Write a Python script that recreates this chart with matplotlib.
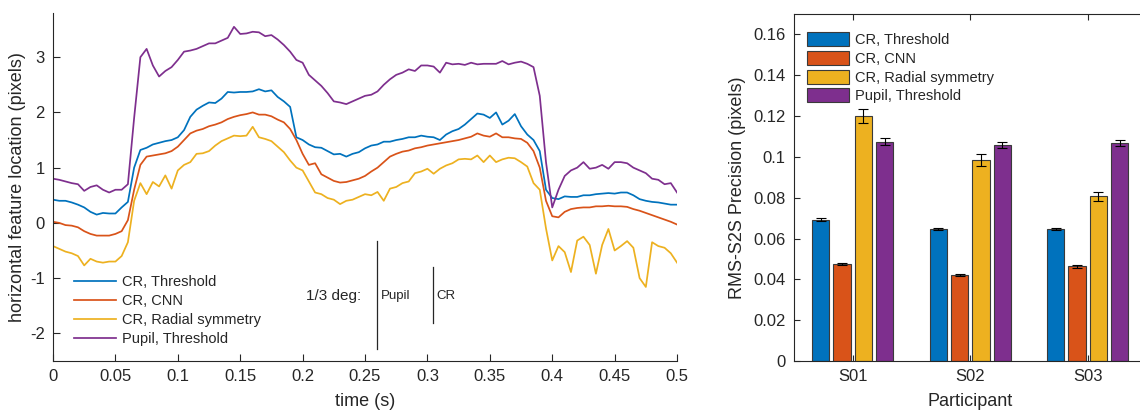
import numpy as np
import matplotlib
matplotlib.use("Agg")
import matplotlib.pyplot as plt

plt.rcParams['font.family'] = ['Liberation Sans', 'DejaVu Sans']

# ---------------- data: left panel (time series) ----------------
time_s = [i * 0.005 for i in range(101)]

pupil_threshold = [
    0.80, 0.78, 0.75, 0.72, 0.70, 0.58, 0.65, 0.68, 0.60, 0.55,
    0.60, 0.60, 0.70, 1.90, 3.00, 3.15, 2.85, 2.65, 2.75, 2.82,
    2.95, 3.10, 3.12, 3.15, 3.20, 3.25, 3.25, 3.30, 3.35, 3.55,
    3.42, 3.43, 3.46, 3.45, 3.38, 3.40, 3.32, 3.22, 3.10, 2.95,
    2.90, 2.68, 2.58, 2.48, 2.35, 2.20, 2.18, 2.15, 2.20, 2.25,
    2.30, 2.32, 2.38, 2.50, 2.60, 2.68, 2.72, 2.78, 2.75, 2.85,
    2.85, 2.83, 2.72, 2.90, 2.87, 2.88, 2.86, 2.90, 2.87, 2.88,
    2.88, 2.88, 2.93, 2.87, 2.90, 2.92, 2.88, 2.82, 2.30, 1.10,
    0.28, 0.60, 0.85, 0.95, 1.00, 1.10, 0.98, 1.00, 1.05, 0.98,
    1.10, 1.10, 1.08, 1.00, 0.95, 0.90, 0.80, 0.78, 0.70, 0.72,
    0.55]

cr_threshold = [
    0.42, 0.40, 0.40, 0.37, 0.33, 0.28, 0.20, 0.15, 0.18, 0.17,
    0.17, 0.28, 0.38, 1.00, 1.32, 1.36, 1.42, 1.45, 1.48, 1.50,
    1.55, 1.68, 1.92, 2.05, 2.12, 2.18, 2.17, 2.25, 2.37, 2.36,
    2.37, 2.37, 2.38, 2.42, 2.38, 2.40, 2.28, 2.20, 2.10, 1.55,
    1.50, 1.42, 1.37, 1.36, 1.30, 1.24, 1.25, 1.20, 1.25, 1.28,
    1.35, 1.40, 1.42, 1.47, 1.47, 1.50, 1.52, 1.55, 1.55, 1.58,
    1.56, 1.55, 1.50, 1.60, 1.66, 1.70, 1.78, 1.88, 1.98, 1.96,
    1.90, 2.00, 1.78, 1.85, 1.97, 1.75, 1.60, 1.50, 1.30, 0.60,
    0.45, 0.43, 0.48, 0.47, 0.47, 0.50, 0.50, 0.52, 0.53, 0.54,
    0.53, 0.55, 0.55, 0.50, 0.43, 0.40, 0.38, 0.37, 0.35, 0.33,
    0.33]

cr_cnn = [
    0.02, 0.00, -0.04, -0.05, -0.08, -0.15, -0.20, -0.23, -0.23, -0.23,
    -0.20, -0.15, 0.05, 0.60, 1.05, 1.20, 1.22, 1.24, 1.26, 1.30,
    1.38, 1.50, 1.62, 1.67, 1.70, 1.75, 1.78, 1.82, 1.88, 1.92,
    1.95, 1.97, 2.00, 1.96, 1.96, 1.93, 1.87, 1.82, 1.70, 1.50,
    1.25, 1.05, 1.08, 0.88, 0.82, 0.76, 0.73, 0.74, 0.77, 0.80,
    0.85, 0.93, 1.00, 1.10, 1.20, 1.25, 1.29, 1.31, 1.35, 1.37,
    1.40, 1.42, 1.44, 1.46, 1.48, 1.50, 1.53, 1.56, 1.62, 1.58,
    1.56, 1.62, 1.55, 1.55, 1.53, 1.52, 1.45, 1.30, 1.00, 0.40,
    0.12, 0.10, 0.20, 0.25, 0.27, 0.28, 0.28, 0.30, 0.30, 0.31,
    0.30, 0.30, 0.29, 0.25, 0.22, 0.18, 0.14, 0.10, 0.06, 0.02,
    -0.03]

cr_radial = [
    -0.42, -0.47, -0.52, -0.55, -0.60, -0.77, -0.65, -0.70, -0.72, -0.70,
    -0.70, -0.60, -0.35, 0.40, 0.72, 0.52, 0.74, 0.66, 0.86, 0.62,
    0.95, 1.05, 1.10, 1.25, 1.26, 1.30, 1.40, 1.48, 1.53, 1.58,
    1.57, 1.58, 1.74, 1.55, 1.52, 1.48, 1.38, 1.28, 1.13, 1.00,
    0.95, 0.75, 0.55, 0.52, 0.45, 0.42, 0.34, 0.40, 0.42, 0.47,
    0.52, 0.50, 0.56, 0.40, 0.62, 0.65, 0.72, 0.75, 0.90, 0.93,
    0.98, 0.89, 0.98, 1.04, 1.08, 1.15, 1.16, 1.15, 1.22, 1.10,
    1.22, 1.10, 1.15, 1.18, 1.17, 1.10, 1.02, 0.72, 0.60, -0.10,
    -0.68, -0.42, -0.53, -0.89, -0.32, -0.25, -0.40, -0.92, -0.40, -0.11,
    -0.50, -0.42, -0.33, -0.45, -1.00, -1.16, -0.35, -0.42, -0.45, -0.55,
    -0.72]

series_names = ['CR, Threshold', 'CR, CNN', 'CR, Radial symmetry', 'Pupil, Threshold']
colors = ['#0072BD', '#D95319', '#EDB120', '#7E2F8E']

x_ticks = [0, 0.05, 0.1, 0.15, 0.2, 0.25, 0.3, 0.35, 0.4, 0.45, 0.5]
x_tick_labels = ['0', '0.05', '0.1', '0.15', '0.2', '0.25', '0.3', '0.35', '0.4', '0.45', '0.5']
y_ticks_left = [-2, -1, 0, 1, 2, 3]

# ---------------- data: right panel (bars) ----------------
participants = ['S01', 'S02', 'S03']
prec_cr_threshold = [0.0692, 0.0646, 0.0646]
prec_cr_cnn = [0.0474, 0.0421, 0.0463]
prec_cr_radial = [0.1201, 0.0985, 0.0806]
prec_pupil_threshold = [0.1075, 0.1058, 0.1070]
err_cr_threshold = [0.0007, 0.0005, 0.0005]
err_cr_cnn = [0.0005, 0.0003, 0.0008]
err_cr_radial = [0.0033, 0.0031, 0.0020]
err_pupil_threshold = [0.0017, 0.0015, 0.0015]
y_ticks_right = [0, 0.02, 0.04, 0.06, 0.08, 0.1, 0.12, 0.14, 0.16]
y_tick_labels_right = ['0', '0.02', '0.04', '0.06', '0.08', '0.1', '0.12', '0.14', '0.16']

axis_col = '#262626'

fig = plt.figure(figsize=(11.4, 4.11), dpi=100)

# ---------------- left panel ----------------
ax1 = fig.add_axes([0.0465, 0.1217, 0.5474, 0.8467])
for vals, name, c in zip([cr_threshold, cr_cnn, cr_radial, pupil_threshold], series_names, colors):
    ax1.plot(time_s, vals, color=c, lw=1.25, label=name)
ax1.set_xlim(0, 0.5)
ax1.set_ylim(-2.5, 3.8)
ax1.set_xticks(x_ticks)
ax1.set_xticklabels(x_tick_labels)
ax1.set_yticks(y_ticks_left)
ax1.set_yticklabels([str(v) for v in y_ticks_left])
ax1.spines['top'].set_visible(False)
ax1.spines['right'].set_visible(False)
for s in ['left', 'bottom']:
    ax1.spines[s].set_color(axis_col)
    ax1.spines[s].set_linewidth(0.8)
ax1.tick_params(direction='in', length=5, width=0.8, colors=axis_col, labelsize=12, pad=6)
ax1.set_xlabel('time (s)', fontsize=13, color=axis_col, labelpad=6)
ax1.set_ylabel('horizontal feature location (pixels)', fontsize=13, color=axis_col, labelpad=3)
leg1 = ax1.legend(loc='lower left', bbox_to_anchor=(0.01, 0.0), frameon=False, fontsize=10.5,
                  handlelength=2.9, handletextpad=0.4, labelspacing=0.35, borderaxespad=0.6)
for t in leg1.get_texts():
    t.set_color(axis_col)

# scale bars (1/3 deg)
ax1.plot([0.2596, 0.2596], [-0.33, -2.28], color=axis_col, lw=0.9)
ax1.plot([0.3045, 0.3045], [-0.80, -1.81], color=axis_col, lw=0.9)
ax1.text(0.2465, -1.32, '1/3 deg:', ha='right', va='center', fontsize=11, color=axis_col)
ax1.text(0.2625, -1.32, 'Pupil', ha='left', va='center', fontsize=9.5, color=axis_col)
ax1.text(0.3075, -1.32, 'CR', ha='left', va='center', fontsize=9.5, color=axis_col)

# ---------------- right panel ----------------
ax2 = fig.add_axes([0.6965, 0.1217, 0.3092, 0.8442])
xpos = np.arange(1, len(participants) + 1)
bw = 0.147
step = 0.181
bar_vals = [prec_cr_threshold, prec_cr_cnn, prec_cr_radial, prec_pupil_threshold]
bar_errs = [err_cr_threshold, err_cr_cnn, err_cr_radial, err_pupil_threshold]
for k, (vals, errs, name, c) in enumerate(zip(bar_vals, bar_errs, series_names, colors)):
    xk = xpos + (k - 1.5) * step
    ax2.bar(xk, vals, width=bw, color=c, edgecolor='#3a3a3a', linewidth=0.8, label=name, zorder=2)
    ax2.errorbar(xk, vals, yerr=errs, fmt='none', ecolor='black', elinewidth=0.8,
                 capsize=3.5, capthick=0.8, zorder=3)
ax2.set_xlim(0.5, 3.5)
ax2.set_ylim(0, 0.17)
ax2.set_xticks(xpos)
ax2.set_xticklabels(participants)
ax2.set_yticks(y_ticks_right)
ax2.set_yticklabels(y_tick_labels_right)
for s in ['left', 'bottom', 'top', 'right']:
    ax2.spines[s].set_color(axis_col)
    ax2.spines[s].set_linewidth(0.8)
ax2.tick_params(direction='in', length=4, width=0.8, colors=axis_col, labelsize=12, pad=6,
                top=True, right=True)
ax2.set_xlabel('Participant', fontsize=13, color=axis_col, labelpad=6)
ax2.set_ylabel('RMS-S2S Precision (pixels)', fontsize=13, color=axis_col, labelpad=5)
leg2 = ax2.legend(loc='upper left', frameon=False, fontsize=10.5, handlelength=2.9,
                  handleheight=1.1, handletextpad=0.4, labelspacing=0.25,
                  borderaxespad=0.5, bbox_to_anchor=(0.0, 0.985))
for t in leg2.get_texts():
    t.set_color(axis_col)

fig.savefig('out.png', dpi=100)
